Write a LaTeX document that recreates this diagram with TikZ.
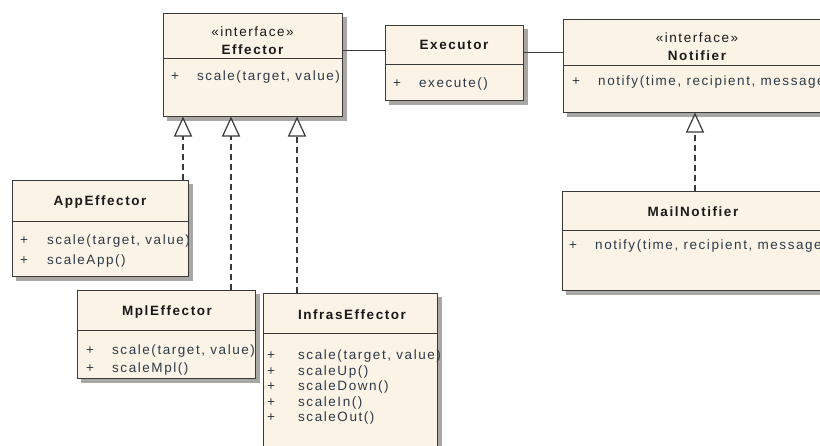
\documentclass[tikz,border=0pt]{standalone}
\usepackage{fontspec}
\setmainfont{Liberation Sans}
\newfontfamily\umlfont[LetterSpace=11.5]{Liberation Sans}
\usetikzlibrary{arrows.meta,backgrounds}
\definecolor{boxfill}{HTML}{FBF3E6}
\definecolor{boxline}{HTML}{3A3A3A}
\definecolor{methtext}{HTML}{2E3A48}
\definecolor{nametext}{HTML}{1A1A1A}
\definecolor{shadowgray}{HTML}{A9A7A4}
\begin{document}
\begin{tikzpicture}[x=1pt,y=-1pt,
 umlbox/.style={draw=boxline, line width=1pt, fill=boxfill, inner sep=0pt},
 boxshadow/.style={fill=shadowgray},
 cname/.style={font=\umlfont\fontsize{13.5}{15}\selectfont\bfseries, text=nametext, inner sep=0pt},
 stereo/.style={font=\umlfont\fontsize{13.5}{15}\selectfont, text=nametext, inner sep=0pt},
 vis/.style={font=\umlfont\fontsize{13.5}{15}\selectfont, text=methtext, inner sep=0pt},
 meth/.style={font=\umlfont\fontsize{13.5}{15}\selectfont, text=methtext, inner sep=0pt, anchor=west},
 divider/.style={draw=boxline, line width=1pt},
 realize/.style={draw=boxline, line width=1.2pt, dash pattern=on 6pt off 4pt,
   -{Triangle[open, length=20pt, width=18pt, line width=1.2pt]}},
 assoc/.style={draw=boxline, line width=1pt}]
\useasboundingbox (0,0) rectangle (820,445);
\clip (0,0) rectangle (820,445);

% ---- Effector
\node[umlbox, minimum width=179pt, minimum height=103pt] (eff) at (252.5,64.5) {};
\coordinate (effd) at (0,58);
\draw[divider] (eff.west |- effd) -- (eff.east |- effd);
\node[stereo] (effst) at (252.5,32) {«interface»};
\node[cname] (effn) at (252.5,50) {Effector};
\node[vis] (effp1) at (175,77) {+};
\node[meth] (effm1) at (197,77) {scale(target, value)};

% ---- Executor
\node[umlbox, minimum width=138pt, minimum height=75pt] (exe) at (454,62.5) {};
\coordinate (exed) at (0,64);
\draw[divider] (exe.west |- exed) -- (exe.east |- exed);
\node[cname] (exen) at (454,45) {Executor};
\node[vis] (exep1) at (397,84) {+};
\node[meth] (exem1) at (419,84) {execute()};

% ---- Notifier
\node[umlbox, minimum width=268pt, minimum height=93pt] (noti) at (697,65.5) {};
\coordinate (notid) at (0,65);
\draw[divider] (noti.west |- notid) -- (noti.east |- notid);
\node[stereo] (notist) at (697,38) {«interface»};
\node[cname] (notin) at (697,56) {Notifier};
\node[vis] (notip1) at (576,82) {+};
\node[meth] (notim1) at (598,82) {notify(time, recipient, message)};

% ---- MailNotifier
\node[umlbox, minimum width=264pt, minimum height=99pt] (mail) at (694,240.5) {};
\coordinate (maild) at (0,230);
\draw[divider] (mail.west |- maild) -- (mail.east |- maild);
\node[cname] (mailn) at (693,212) {MailNotifier};
\node[vis] (mailp1) at (573,246) {+};
\node[meth] (mailm1) at (595,246) {notify(time, recipient, message)};

% ---- AppEffector
\node[umlbox, minimum width=176pt, minimum height=96pt] (app) at (100,228) {};
\coordinate (appd) at (0,221);
\draw[divider] (app.west |- appd) -- (app.east |- appd);
\node[cname] (appn) at (100,202) {AppEffector};
\node[vis] (appp1) at (24,241) {+};
\node[meth] (appm1) at (47,241) {scale(target, value)};
\node[vis] (appp2) at (24,261) {+};
\node[meth] (appm2) at (47,261) {scaleApp()};

% ---- MplEffector
\node[umlbox, minimum width=178pt, minimum height=88pt] (mpl) at (166,334) {};
\coordinate (mpld) at (0,330);
\draw[divider] (mpl.west |- mpld) -- (mpl.east |- mpld);
\node[cname] (mpln) at (167,312) {MplEffector};
\node[vis] (mplp1) at (90,351) {+};
\node[meth] (mplm1) at (112,351) {scale(target, value)};
\node[vis] (mplp2) at (90,369) {+};
\node[meth] (mplm2) at (112,369) {scaleMpl()};

% ---- InfrasEffector
\node[umlbox, minimum width=174pt, minimum height=162pt] (inf) at (350,374) {};
\coordinate (infd) at (0,333);
\draw[divider] (inf.west |- infd) -- (inf.east |- infd);
\node[cname] (infn) at (352,315) {InfrasEffector};
\node[vis] (infp1) at (271,356) {+};
\node[meth] (infm1) at (298,356) {scale(target, value)};
\node[vis] (infp2) at (271,372) {+};
\node[meth] (infm2) at (298,372) {scaleUp()};
\node[vis] (infp3) at (271,387) {+};
\node[meth] (infm3) at (298,387) {scaleDown()};
\node[vis] (infp4) at (271,403) {+};
\node[meth] (infm4) at (298,403) {scaleIn()};
\node[vis] (infp5) at (271,418) {+};
\node[meth] (infm5) at (298,418) {scaleOut()};

% ---- shadows and page background
\begin{scope}[on background layer]
  \fill[white] (0,0) rectangle (820,445);
  \foreach \b in {eff,exe,noti,mail,app,mpl,inf}{
    \fill[boxshadow] ([shift={(4pt,-4pt)}]\b.south west) rectangle ([shift={(4pt,-4pt)}]\b.north east);
  }
\end{scope}

% ---- associations
\coordinate (a1) at (0,50);
\coordinate (a2) at (0,52);
\draw[assoc] (eff.east |- a1) -- (exe.west |- a1);
\draw[assoc] (exe.east |- a2) -- (noti.west |- a2);

% ---- realizations
\coordinate (r1) at (183,0);
\coordinate (r2) at (231,0);
\coordinate (r3) at (297,0);
\coordinate (r4) at (695,0);
\draw[realize] (app.north -| r1) -- (eff.south -| r1);
\draw[realize] (mpl.north -| r2) -- (eff.south -| r2);
\draw[realize] (inf.north -| r3) -- (eff.south -| r3);
\draw[realize] (mail.north -| r4) -- (noti.south -| r4);
\end{tikzpicture}
\end{document}
